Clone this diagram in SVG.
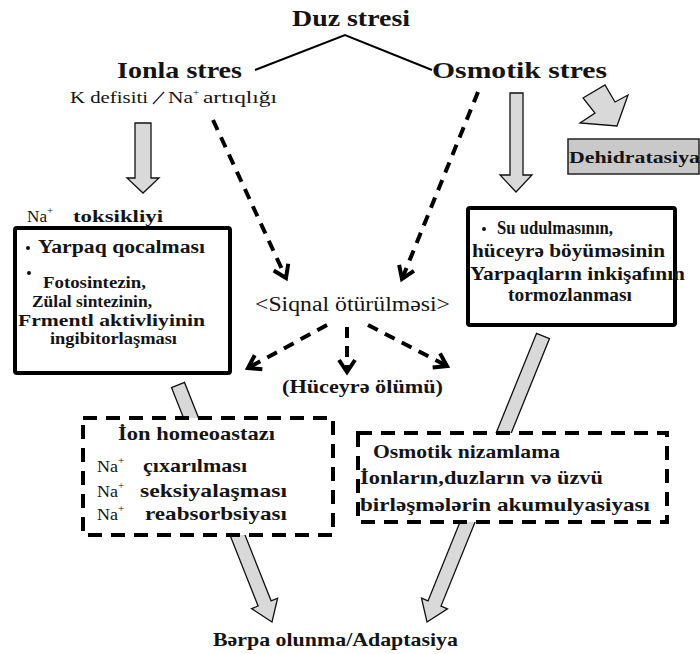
<svg xmlns="http://www.w3.org/2000/svg" width="700" height="654" viewBox="0 0 700 654">
<defs>
<style>
text{font-family:"Liberation Serif","Times New Roman",serif;fill:#141414;}
.b{font-weight:bold;}
.box{fill:#fff;stroke:#000;stroke-width:4;}
.dbox{fill:#fff;stroke:#000;stroke-width:4;stroke-dasharray:14 9;}
.dash{fill:none;stroke:#000;stroke-width:4;stroke-dasharray:11 8;marker-end:url(#chev);}
.garrow{fill:#d9d9d9;stroke:#111;stroke-width:1.3;stroke-linejoin:miter;}
.sup{font-size:11px;}
</style>
<marker id="chev" markerUnits="userSpaceOnUse" viewBox="0 0 20 20" markerWidth="20" markerHeight="20" refX="15" refY="10" orient="auto">
<path d="M3,2 L15,10 L3,18" fill="none" stroke="#000" stroke-width="4" stroke-dasharray="none"/>
</marker>
</defs>
<rect width="700" height="654" fill="#fff"/>

<g id="connectors">
<polyline points="255,70 345,35 432,70" fill="none" stroke="#000" stroke-width="2"/>
<polygon class="garrow" points="135,123 151,123 151,178 159,178 143,193 127,178 135,178"/>
<polygon class="garrow" points="510,93 523,93 523,175 532,175 516,192 500,175 510,175"/>
<polygon class="garrow" points="583,98 605,85 615,102 628,95 617,126 580,123 595,113"/>
<line class="dash" x1="213" y1="120" x2="286" y2="278"/>
<line class="dash" x1="478" y1="92" x2="402" y2="279"/>
<line class="dash" x1="327" y1="325" x2="248" y2="368"/>
<line class="dash" x1="347" y1="327" x2="347" y2="372"/>
<line class="dash" x1="368" y1="325" x2="447" y2="366"/>
<polygon class="garrow" points="171.5,387.6 258.1,606 251.6,608.6 272,622 277.6,598.2 271.1,600.8 184.5,382.4"/>
<polygon class="garrow" points="536.5,333.4 428,600.9 421.5,598.2 427,622 447.5,608.8 441,606.1 549.5,338.6"/>
</g>

<g id="node-duz-stresi">
<text class="b" x="292" y="26" font-size="24" textLength="118" lengthAdjust="spacingAndGlyphs">Duz stresi</text>
</g>

<g id="node-ionla-stres">
<text class="b" x="117" y="78" font-size="23" textLength="125" lengthAdjust="spacingAndGlyphs">Ionla stres</text>
<text x="70" y="103" font-size="17" textLength="78" lengthAdjust="spacingAndGlyphs">K defisiti</text>
<line x1="153" y1="104" x2="164" y2="92" stroke="#222" stroke-width="1.2"/>
<text x="168" y="103" font-size="17" textLength="25" lengthAdjust="spacingAndGlyphs">Na</text>
<text class="sup" x="193" y="96">+</text>
<text x="203" y="103" font-size="17" textLength="74" lengthAdjust="spacingAndGlyphs">artıqlığı</text>
</g>

<g id="node-osmotik-stres">
<text class="b" x="432" y="78" font-size="23" textLength="175" lengthAdjust="spacingAndGlyphs">Osmotik stres</text>
</g>

<g id="node-dehidratasiya">
<rect x="568" y="139" width="131" height="35" fill="#c9c9c9" stroke="#222" stroke-width="1.5"/>
<text class="b" x="569" y="163" font-size="17" textLength="131" lengthAdjust="spacingAndGlyphs">Dehidratasiya</text>
</g>

<g id="node-na-toksikliyi">
<text x="27" y="222" font-size="17" textLength="20" lengthAdjust="spacingAndGlyphs">Na</text>
<text class="sup" x="47" y="214">+</text>
<text class="b" x="73" y="222" font-size="17" textLength="90" lengthAdjust="spacingAndGlyphs">toksikliyi</text>
<rect class="box" x="15" y="228" width="215" height="145" rx="2"/>
<circle cx="28" cy="248" r="2" fill="#111"/>
<text class="b" x="38" y="253" font-size="18" textLength="167" lengthAdjust="spacingAndGlyphs">Yarpaq qocalması</text>
<circle cx="29" cy="273" r="2" fill="#111"/>
<text class="b" x="43" y="288" font-size="17" textLength="103" lengthAdjust="spacingAndGlyphs">Fotosintezin,</text>
<text class="b" x="32" y="307" font-size="17" textLength="120" lengthAdjust="spacingAndGlyphs">Zülal sintezinin,</text>
<text class="b" x="18" y="326" font-size="17.5" textLength="187" lengthAdjust="spacingAndGlyphs">Frmentl aktivliyinin</text>
<text class="b" x="50" y="344" font-size="17.5" textLength="127" lengthAdjust="spacingAndGlyphs">ingibitorlaşması</text>
</g>

<g id="node-su-udulmasi">
<rect class="box" x="468" y="208" width="207" height="117" rx="2"/>
<circle cx="484" cy="229" r="2" fill="#111"/>
<text class="b" x="497" y="234" font-size="19" textLength="116" lengthAdjust="spacingAndGlyphs">Su udulmasının,</text>
<text class="b" x="472" y="257" font-size="19" textLength="193" lengthAdjust="spacingAndGlyphs">hüceyrə böyüməsinin</text>
<text class="b" x="470" y="280" font-size="19" textLength="215" lengthAdjust="spacingAndGlyphs">Yarpaqların inkişafının</text>
<text class="b" x="508" y="301" font-size="19" textLength="124" lengthAdjust="spacingAndGlyphs">tormozlanması</text>
</g>

<g id="node-siqnal">
<text x="255" y="311" font-size="20" textLength="195" lengthAdjust="spacingAndGlyphs">&lt;Siqnal ötürülməsi&gt;</text>
</g>

<g id="node-huceyre-olumu">
<text class="b" x="282" y="393" font-size="19" textLength="161" lengthAdjust="spacingAndGlyphs">(Hüceyrə ölümü)</text>
</g>

<g id="node-ion-homeoastazi">
<rect class="dbox" x="83" y="418" width="250" height="117"/>
<text class="b" x="118" y="440" font-size="19" textLength="157" lengthAdjust="spacingAndGlyphs">İon homeoastazı</text>
<text x="97" y="472" font-size="17" textLength="21" lengthAdjust="spacingAndGlyphs">Na</text>
<text class="sup" x="118" y="464">+</text>
<text class="b" x="143" y="472" font-size="19" textLength="104" lengthAdjust="spacingAndGlyphs">çıxarılması</text>
<text x="97" y="497" font-size="17" textLength="21" lengthAdjust="spacingAndGlyphs">Na</text>
<text class="sup" x="118" y="489">+</text>
<text class="b" x="140" y="497" font-size="19" textLength="147" lengthAdjust="spacingAndGlyphs">seksiyalaşması</text>
<text x="97" y="520" font-size="17" textLength="21" lengthAdjust="spacingAndGlyphs">Na</text>
<text class="sup" x="118" y="512">+</text>
<text class="b" x="145" y="520" font-size="19" textLength="142" lengthAdjust="spacingAndGlyphs">reabsorbsiyası</text>
</g>

<g id="node-osmotik-nizamlama">
<rect class="dbox" x="358" y="433" width="309" height="89"/>
<text class="b" x="373" y="458" font-size="19" textLength="187" lengthAdjust="spacingAndGlyphs">Osmotik nizamlama</text>
<text class="b" x="360" y="484" font-size="19" textLength="243" lengthAdjust="spacingAndGlyphs">İonların,duzların və üzvü</text>
<text class="b" x="360" y="511" font-size="19" textLength="290" lengthAdjust="spacingAndGlyphs">birləşmələrin akumulyasiyası</text>
</g>

<g id="node-berpa">
<text class="b" x="213" y="646" font-size="19" textLength="245" lengthAdjust="spacingAndGlyphs">Bərpa olunma/Adaptasiya</text>
</g>
</svg>
